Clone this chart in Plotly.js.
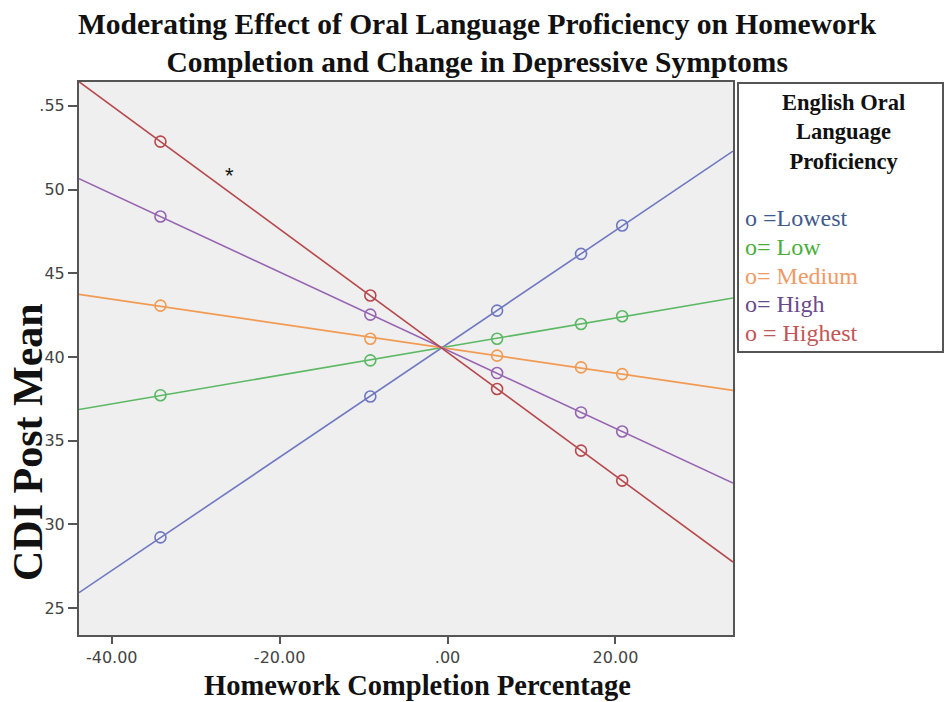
<!DOCTYPE html>
<html>
<head>
<meta charset="utf-8">
<script src="https://cdn.plot.ly/plotly-3.0.1.min.js"></script>
<style>html,body{margin:0;padding:0;background:#fff;}#chart{width:944px;height:702px;}</style>
</head>
<body>
<div id="chart"></div>
<script>
// Homework completion percentage (x) at which the markers sit
const hwX = [-34.2, -9.2, 5.9, 15.9, 20.8];
// CDI post mean for each proficiency group
const lowest  = [29.23, 37.64, 42.77, 46.16, 47.85];
const low     = [37.72, 39.80, 41.09, 41.97, 42.43];
const medium  = [43.07, 41.09, 40.08, 39.38, 38.98];
const high    = [48.39, 42.53, 39.04, 36.69, 35.55];
const highest = [52.86, 43.67, 38.09, 34.41, 32.62];
const groupNames = ["Lowest", "Low", "Medium", "High", "Highest"];
const legendLabels = ["o =Lowest", "o= Low", "o= Medium", "o= High", "o = Highest"];
const xTickVals = [-40, -20, 0, 20];
const xTickText = ["-40.00", "-20.00", ".00", "20.00"];
const yTickVals = [25, 30, 35, 40, 45, 50, 55];
const yTickText = ["25", "30", "35", "40", "45", "50", ".55"];

const series = [lowest, low, medium, high, highest];
const lineColors = ["#6f78c2", "#5bb863", "#f29a52", "#9664b2", "#b8484c"];
const textColors = ["#3f5a8e", "#4aae3a", "#f09a66", "#6a4a8c", "#c25656"];

const xRange = [-43.9, 34.0];
const yRange = [23.4, 56.42];

function fit(xs, ys) {
  const n = xs.length;
  const mx = xs.reduce((a, b) => a + b, 0) / n;
  const my = ys.reduce((a, b) => a + b, 0) / n;
  let sxy = 0, sxx = 0;
  for (let i = 0; i < n; i++) { sxy += (xs[i] - mx) * (ys[i] - my); sxx += (xs[i] - mx) ** 2; }
  const b = sxy / sxx;
  return { a: my - b * mx, b: b };
}

const traces = [];
series.forEach((ys, i) => {
  const f = fit(hwX, ys);
  traces.push({
    x: [xRange[0], xRange[1]],
    y: [f.a + f.b * xRange[0], f.a + f.b * xRange[1]],
    mode: "lines", line: { color: lineColors[i], width: 1.6 },
    hoverinfo: "skip", showlegend: false, name: groupNames[i]
  });
  traces.push({
    x: hwX, y: ys, mode: "markers", name: groupNames[i],
    marker: { symbol: "circle-open", size: 11, color: lineColors[i], line: { width: 1.6, color: lineColors[i] } },
    showlegend: false
  });
});

// plot area in pixels
const L = 79, R = 733, T = 82, B = 635, W = 944, H = 702;
const px = x => (x - L) / (R - L);
const py = y => (B - y) / (B - T);
const serif = "Liberation Serif, Times New Roman, serif";

const annotations = [
  { text: "<b>Moderating Effect of Oral Language Proficiency on Homework</b><br><b>Completion and Change in Depressive Symptoms</b>",
    x: px(477), y: py(43), xref: "paper", yref: "paper", xanchor: "center", yanchor: "middle",
    showarrow: false, align: "center", font: { family: serif, size: 29.5, color: "#111" } },
  { text: "<b>Homework Completion Percentage</b>", x: px(417), y: py(685), xref: "paper", yref: "paper",
    xanchor: "center", yanchor: "middle", showarrow: false, font: { family: serif, size: 28.5, color: "#111" } },
  { text: "<b>CDI Post Mean</b>", x: px(28), y: py(442), xref: "paper", yref: "paper", textangle: -90,
    xanchor: "center", yanchor: "middle", showarrow: false, font: { family: serif, size: 42, color: "#111" } },
  { text: "*", x: -26, y: 50.85, xref: "x", yref: "y", showarrow: false,
    font: { family: "Liberation Sans, Arial", size: 22, color: "#111" } },
  { text: "<b>English Oral</b><br><b>Language</b><br><b>Proficiency</b>", x: px(843), y: py(88), xref: "paper", yref: "paper",
    xanchor: "center", yanchor: "top", showarrow: false, align: "center",
    font: { family: serif, size: 22.5, color: "#111" } }
];
legendLabels.forEach((t, i) => {
  annotations.push({ text: t, x: px(743), y: py(218 + i * 28.8), xref: "paper", yref: "paper",
    xanchor: "left", yanchor: "middle", showarrow: false,
    font: { family: serif, size: 24, color: textColors[i] } });
});

const tickFont = { family: "DejaVu Sans, Verdana, sans-serif", size: 16, color: "#444" };
const layout = {
  width: W, height: H,
  margin: { l: L, r: W - R, t: T, b: H - B, pad: 0 },
  paper_bgcolor: "#ffffff", plot_bgcolor: "#efefef",
  showlegend: false,
  xaxis: {
    range: xRange, tickvals: xTickVals, ticktext: xTickText,
    showgrid: false, zeroline: false, showline: true, mirror: true, linecolor: "#555", linewidth: 2,
    ticks: "outside", ticklen: 7, tickwidth: 2, tickcolor: "#555", tickfont: tickFont
  },
  yaxis: {
    range: yRange, tickvals: yTickVals, ticktext: yTickText,
    showgrid: false, zeroline: false, showline: true, mirror: true, linecolor: "#555", linewidth: 2,
    ticks: "outside", ticklen: 9, tickwidth: 2, tickcolor: "#555", tickfont: tickFont
  },
  shapes: [
    { type: "rect", xref: "paper", yref: "paper", x0: px(738), x1: px(943), y0: py(352), y1: py(83),
      line: { color: "#555", width: 2 }, fillcolor: "#ffffff", layer: "above" }
  ],
  annotations: annotations
};

Plotly.newPlot("chart", traces, layout, { staticPlot: true, displayModeBar: false });
</script>
</body>
</html>
